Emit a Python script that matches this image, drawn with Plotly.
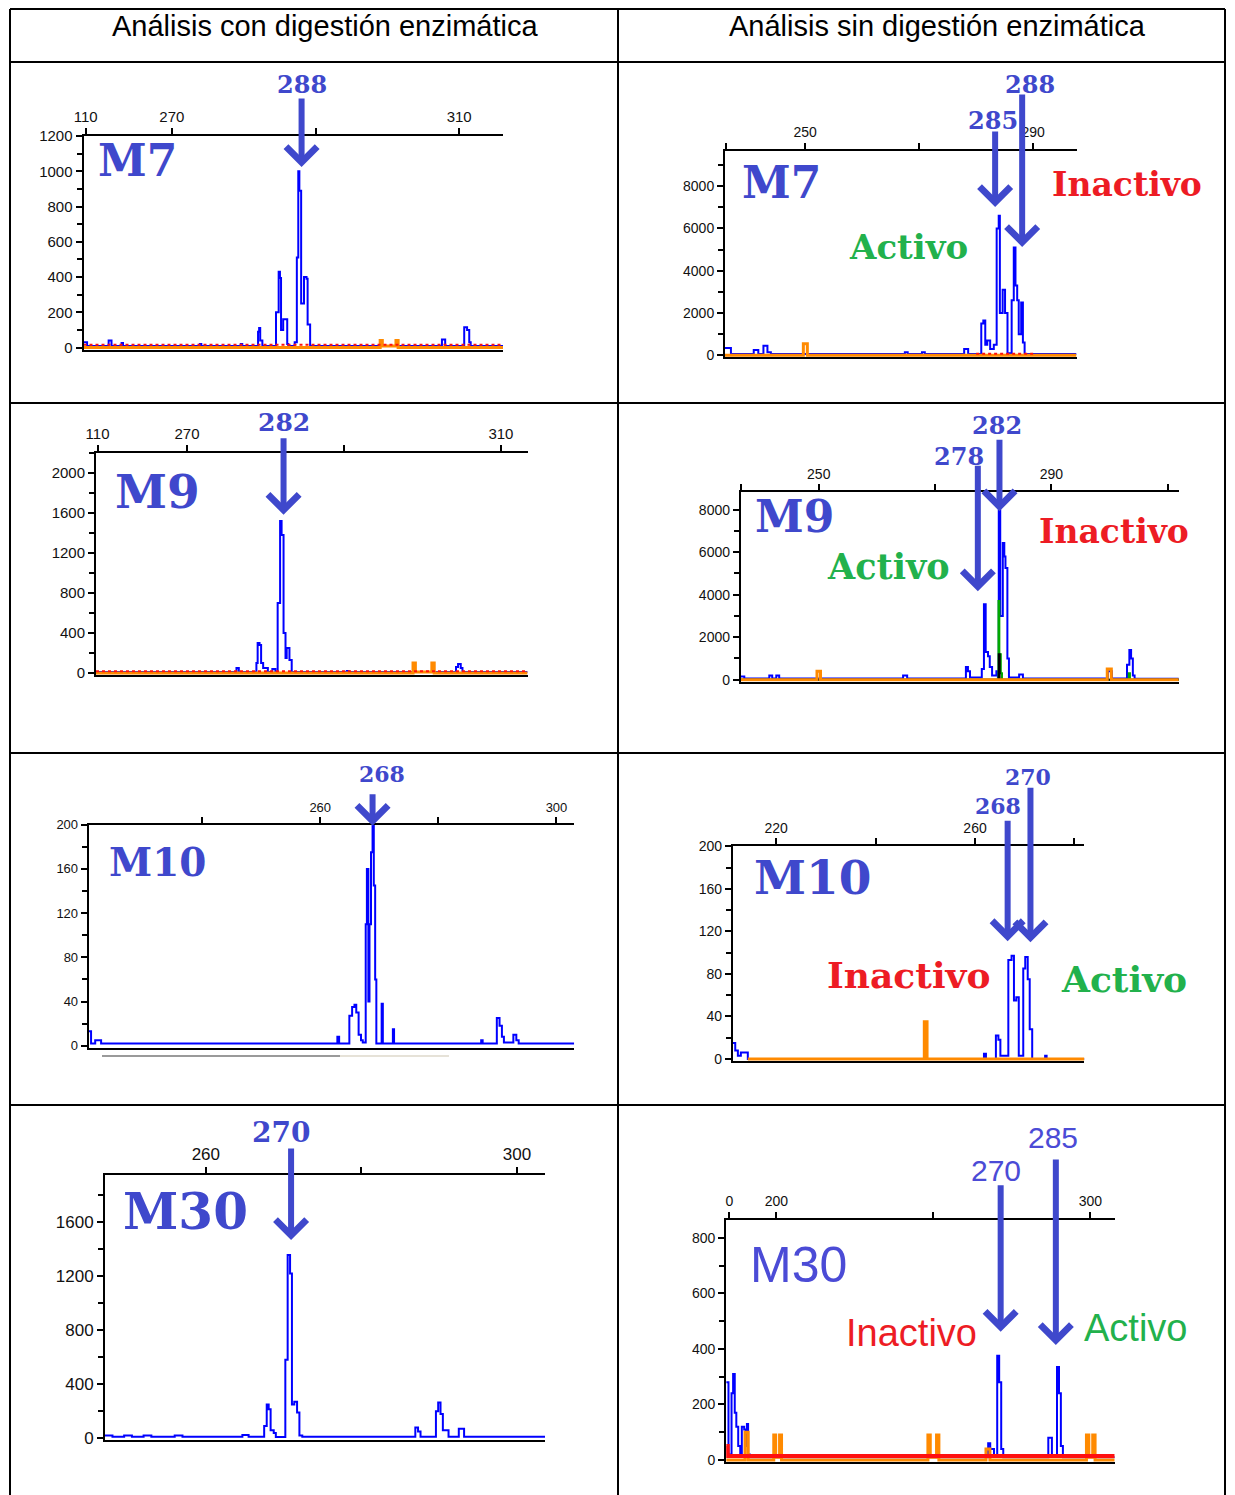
import plotly.graph_objects as go

W, H = 1227, 1487

# ---------------- DATA (size in bp, signal in RFU) ----------------
# Panel 1: M7, con digestión
m7c_x = [257.7, 258.2, 261.2, 261.6, 263.0, 263.2, 273.9, 274.1, 279.6, 279.8, 282.0, 282.15, 282.3, 282.6,
         284.5, 284.87, 285.05, 285.2, 285.5, 286.06, 286.2, 287.1, 287.4, 287.6, 287.75, 288.0, 288.4, 288.75,
         288.9, 289.25, 307.6, 308.05, 310.7, 311.1, 311.4, 311.6, 316.1]
m7c_y = [30, 8, 40, 8, 25, 8, 20, 8, 20, 8, 90, 110, 40, 8,
         200, 430, 395, 100, 160, 20, 8, 30, 510, 1000, 890, 250, 400, 390,
         130, 8, 45, 8, 115, 100, 30, 8, 8]
m7c_orange_x = [257.7, 299.0, 299.3, 301.2, 301.5, 316.1]
m7c_orange_y = [0, 40, 8, 40, 0, 0]
m7c_red_x = [257.7, 316.1]
m7c_red_y = [15, 15]
m7c_xticks = [258.0, 270, 290, 310]
m7c_xtext = ["110", "270", "", "310"]
m7c_yticks = [0, 200, 400, 600, 800, 1000, 1200]

# Panel 2: M7, sin digestión
m7s_x = [235.96, 237.0, 241.0, 241.8, 242.7, 243.4, 244.0, 267.5, 268.0, 270.5, 271.0, 277.9, 278.6,
         280.9, 281.26, 281.6, 281.95, 282.46, 283.1, 283.6, 283.96, 284.16, 284.65, 285.07, 285.5,
         286.23, 286.6, 286.9, 287.2, 287.47, 287.9, 288.2, 288.5, 297.6]
m7s_y = [350, 60, 250, 60, 450, 150, 60, 150, 60, 150, 60, 300, 60,
         1500, 1650, 500, 700, 300, 500, 6000, 6600, 2000, 3100, 2000, 100,
         2600, 5100, 3300, 2600, 1000, 2500, 600, 60, 60]
m7s_orange_x = [235.96, 249.7, 250.4, 297.6]
m7s_orange_y = [0, 550, 0, 0]
m7s_red_x = [280.0, 290.0]
m7s_red_y = [70, 70]
m7s_xticks = [236.1, 250, 270, 290]
m7s_xtext = ["", "250", "", "290"]
m7s_yticks = [0, 2000, 4000, 6000, 8000]

# Panel 3: M9, con digestión
m9c_x = [258.4, 276.3, 276.6, 278.84, 279.0, 279.24, 279.44, 279.7, 280.3, 280.87, 281.26,
         281.55, 281.86, 282.05, 282.3, 282.55, 282.7, 283.05, 283.34, 290.36, 290.6,
         304.28, 304.54, 304.88, 305.1, 313.4]
m9c_y = [10, 50, 10, 100, 300, 280, 100, 50, 10, 40, 10,
         700, 1520, 1380, 400, 150, 250, 130, 10, 20, 10,
         60, 90, 50, 10, 10]
m9c_orange_x = [258.4, 298.8, 299.1, 301.2, 301.5, 313.4]
m9c_orange_y = [0, 100, 10, 100, 0, 0]
m9c_red_x = [258.4, 313.4]
m9c_red_y = [18, 18]
m9c_xticks = [258.6, 270, 290, 310]
m9c_xtext = ["110", "270", "", "310"]
m9c_yticks = [0, 400, 800, 1200, 1600, 2000]

# Panel 4: M9, sin digestión
m9s_x = [236.6, 237.2, 241.5, 242.0, 242.7, 243.2, 264.5, 265.2, 275.3, 275.65, 276.0,
         278.03, 278.4, 278.7, 279.1, 279.4, 279.8, 280.54, 280.8,
         280.95, 281.2, 281.64, 281.9, 282.1, 282.43, 282.7, 284.45, 285.1, 299.7, 300.4,
         303.0, 303.4, 303.7, 304.0, 304.3, 311.9]
m9s_y = [150, 60, 200, 60, 200, 60, 200, 60, 600, 400, 100,
         500, 3550, 1300, 1100, 600, 200, 400, 100,
         7970, 3000, 6430, 5800, 5260, 1000, 100, 250, 60, 400, 60,
         700, 1400, 1000, 200, 50, 50]
m9s_green_x = [236.6, 280.9, 281.05, 281.3, 281.5, 303.3, 303.5, 311.9]
m9s_green_y = [0, 3700, 1200, 300, 0, 300, 0, 0]
m9s_black_x = [236.6, 280.95, 281.1, 311.9]
m9s_black_y = [0, 1200, 0, 0]
m9s_orange_x = [236.6, 249.7, 250.3, 299.6, 300.3, 311.9]
m9s_orange_y = [0, 400, 0, 500, 0, 0]
m9s_xticks = [236.7, 250, 270, 290, 310]
m9s_xtext = ["", "250", "", "290", ""]
m9s_yticks = [0, 2000, 4000, 6000, 8000]

# Panel 5: M10, con digestión
m10c_x = [220.8, 221.2, 221.9, 222.9, 262.9, 263.2, 264.93, 265.4, 265.8, 266.1, 266.5, 266.9, 267.2,
          267.7, 267.9, 268.15, 268.34, 268.6, 268.86, 269.07, 269.3, 269.5, 270.4, 270.6, 272.3, 272.5,
          287.25, 287.5, 289.9, 290.36, 290.76, 291.1, 292.7, 293.2, 293.6, 303.0]
m10c_y = [13, 2, 5, 2, 8, 2, 27, 35, 37, 30, 10, 5, 3,
          110, 160, 40, 110, 175, 199, 145, 60, 2, 38, 2, 15, 2,
          5, 2, 25, 18, 8, 3, 10, 5, 2, 2]
m10c_xticks = [240, 260, 280, 300]
m10c_xtext = ["", "260", "", "300"]
m10c_yticks = [0, 40, 80, 120, 160, 200]

# Panel 6: M10, sin digestión
m10s_x = [211.3, 211.77, 212.3, 212.9, 214.3, 261.8, 262.2, 264.2, 264.7, 265.1,
          266.7, 267.35, 267.83, 268.3, 268.8, 269.7, 270.1, 270.6, 271.0, 271.5, 274.1, 274.4, 282.0]
m10s_y = [15, 8, 3, 6, 0, 5, 0, 22, 18, 3,
          93, 97, 55, 58, 3, 85, 96, 75, 28, 0, 3, 0, 0]
m10s_orange_x = [214.3, 249.8, 250.35, 282.0]
m10s_orange_y = [0, 35, 0, 0]
m10s_xticks = [220, 240, 260, 280]
m10s_xtext = ["220", "", "260", ""]
m10s_yticks = [0, 40, 80, 120, 160, 200]

# Panel 7: M30, con digestión
m30c_x = [247.04, 248.0, 249.5, 250.5, 252.0, 253.0, 256.0, 257.0, 264.7, 265.5,
          267.5, 267.83, 268.08, 268.33, 268.73, 269.0,
          270.22, 270.52, 270.83, 271.07, 271.37, 271.73, 272.03, 272.4,
          286.93, 287.28, 287.6, 289.58, 289.87, 290.17, 290.47, 290.92, 291.2,
          292.52, 292.91, 293.2, 303.6]
m30c_y = [20, 12, 20, 12, 20, 12, 20, 12, 25, 12,
          90, 250, 215, 60, 40, 10,
          580, 1354, 1217, 250, 270, 190, 20, 12,
          80, 50, 12, 200, 265, 180, 60, 60, 12,
          70, 70, 12, 12]
m30c_xticks = [260, 280, 300]
m30c_xtext = ["260", "", "300"]
m30c_yticks = [0, 400, 800, 1200, 1600]

# Panel 8: M30, sin digestión
m30s_x = [253.6, 253.89, 254.28, 254.48, 254.69, 254.89, 255.13, 255.39, 255.59, 255.89, 256.09, 256.24,
          256.39, 256.6, 286.98, 287.24, 287.72, 288.13, 288.38, 288.64, 288.9,
          294.64, 295.1, 295.75, 296.0, 296.24, 296.5, 303.1]
m30s_y = [280, 20, 240, 310, 170, 120, 50, 20, 120, 110, 50, 130,
          20, 10, 60, 40, 15, 375, 280, 40, 10,
          80, 15, 335, 240, 50, 10, 10]
m30s_orange_x = [253.6, 256.0, 256.4, 259.66, 259.9, 260.4, 260.65, 279.3, 279.6, 280.4, 280.7,
                 286.7, 287.2, 299.5, 299.8, 300.3, 300.6, 303.1]
m30s_orange_y = [0, 100, 0, 90, 10, 90, 0, 90, 10, 90, 0,
                 40, 0, 90, 10, 90, 0, 0]
m30s_red_x = [253.6, 253.8, 303.1]
m30s_red_y = [50, 14, 14]
m30s_xticks = [254.0, 260, 280, 300]
m30s_xtext = ["0", "200", "", "300"]
m30s_yticks = [0, 200, 400, 600, 800]

# ---------------- STYLE ----------------
BLUE_TXT = '#3F48CC'
RED_TXT = '#ED1C24'
GREEN_TXT = '#22B14C'
TRACE_BLUE = '#0000FF'
ORANGE = '#FF8A00'
RED = '#FF1010'
GREEN = '#00A800'
SERIF = 'DejaVu Serif'
SANS = 'Liberation Sans, Arial'
OFF = 8  # page body margin


def px(x):
    return (x - OFF) / W


def py(y):
    return 1 - (y - OFF) / H


# geometry per panel: left, right, top, zero (pixels); x range; y max; tick font; minor dtick
panels = [
    dict(l=83.5, r=503, t=136, z=347.5, xr=(257.7, 316.1), ymax=1200, fs=15, minor=100,
         xt=m7c_xticks, xtt=m7c_xtext, yt=m7c_yticks,
         traces=[(m7c_x, m7c_y, TRACE_BLUE, 2, 'solid'), (m7c_orange_x, m7c_orange_y, ORANGE, 3, 'solid'),
                 (m7c_red_x, m7c_red_y, RED, 2, 'dot')]),
    dict(l=725, r=1076.5, t=151, z=355.3, xr=(235.96, 297.6), ymax=9660, fs=14, minor=1000,
         xt=m7s_xticks, xtt=m7s_xtext, yt=m7s_yticks,
         traces=[(m7s_x, m7s_y, TRACE_BLUE, 2, 'solid'), (m7s_orange_x, m7s_orange_y, ORANGE, 3, 'solid'),
                 (m7s_red_x, m7s_red_y, RED, 2, 'dot')]),
    dict(l=96, r=527.6, t=453, z=673, xr=(258.4, 313.4), ymax=2200, fs=15, minor=200,
         xt=m9c_xticks, xtt=m9c_xtext, yt=m9c_yticks,
         traces=[(m9c_x, m9c_y, TRACE_BLUE, 2, 'solid'), (m9c_orange_x, m9c_orange_y, ORANGE, 3, 'solid'),
                 (m9c_red_x, m9c_red_y, RED, 2, 'dot')]),
    dict(l=740.8, r=1178.8, t=492.3, z=679.7, xr=(236.6, 311.9), ymax=8820, fs=14, minor=1000,
         xt=m9s_xticks, xtt=m9s_xtext, yt=m9s_yticks,
         traces=[(m9s_x, m9s_y, TRACE_BLUE, 2, 'solid'), (m9s_green_x, m9s_green_y, GREEN, 2, 'solid'),
                 (m9s_black_x, m9s_black_y, '#000000', 2, 'solid'),
                 (m9s_orange_x, m9s_orange_y, ORANGE, 3, 'solid')]),
    dict(l=88.7, r=574.2, t=824.7, z=1045.7, xr=(220.8, 303.0), ymax=200, fs=13, minor=20,
         xt=m10c_xticks, xtt=m10c_xtext, yt=m10c_yticks,
         traces=[(m10c_x, m10c_y, TRACE_BLUE, 2, 'solid')]),
    dict(l=732.9, r=1084.4, t=846.3, z=1059, xr=(211.3, 282.0), ymax=200, fs=14, minor=20,
         xt=m10s_xticks, xtt=m10s_xtext, yt=m10s_yticks,
         traces=[(m10s_x, m10s_y, TRACE_BLUE, 2, 'solid'), (m10s_orange_x, m10s_orange_y, ORANGE, 3, 'solid')]),
    dict(l=105, r=545, t=1175, z=1438.3, xr=(247.04, 303.6), ymax=1945, fs=17, minor=200,
         xt=m30c_xticks, xtt=m30c_xtext, yt=m30c_yticks,
         traces=[(m30c_x, m30c_y, TRACE_BLUE, 2, 'solid')]),
    dict(l=726.2, r=1114.7, t=1220, z=1460, xr=(253.6, 303.1), ymax=864, fs=14, minor=100,
         xt=m30s_xticks, xtt=m30s_xtext, yt=m30s_yticks,
         traces=[(m30s_x, m30s_y, TRACE_BLUE, 2, 'solid'), (m30s_orange_x, m30s_orange_y, ORANGE, 3, 'solid'),
                 (m30s_red_x, m30s_red_y, RED, 4, 'solid')]),
]

fig = go.Figure()
layout_axes = {}
for i, p in enumerate(panels, start=1):
    upp = p['ymax'] / (p['z'] - p['t'])
    ymin = -2 * upp
    xa = 'xaxis' if i == 1 else f'xaxis{i}'
    ya = 'yaxis' if i == 1 else f'yaxis{i}'
    xid = 'x' if i == 1 else f'x{i}'
    yid = 'y' if i == 1 else f'y{i}'
    p['xid'], p['yid'] = xid, yid
    for (tx, ty, col, w, dash) in p['traces']:
        fig.add_trace(go.Scatter(x=tx, y=ty, mode='lines', line=dict(color=col, width=w, shape='hv', dash=dash),
                                 xaxis=xid, yaxis=yid, hoverinfo='skip', showlegend=False))
    layout_axes[xa] = dict(domain=[px(p['l']), px(p['r'])], range=list(p['xr']), side='top', anchor=yid,
                           showline=True, linecolor='black', linewidth=2, mirror=True,
                           ticks='outside', ticklen=6, tickwidth=1.5, tickcolor='black',
                           tickmode='array', tickvals=p['xt'], ticktext=p['xtt'],
                           tickfont=dict(family=SANS, size=p['fs'], color='#111'),
                           showgrid=False, zeroline=False, fixedrange=True, automargin=False)
    layout_axes[ya] = dict(domain=[py(p['z'] + 2), py(p['t'])], range=[ymin, p['ymax']], anchor=xid,
                           showline=True, linecolor='black', linewidth=2,
                           ticks='outside', ticklen=6, tickwidth=1.5, tickcolor='black',
                           tickmode='array', tickvals=p['yt'],
                           tickfont=dict(family=SANS, size=p['fs'], color='#111'),
                           minor=dict(dtick=p['minor'], tick0=0, ticks='outside', ticklen=5,
                                      tickwidth=1.5, tickcolor='black', showgrid=False),
                           showgrid=False, zeroline=False, fixedrange=True, automargin=False)

# ---------------- TABLE GRID ----------------
shapes = []
LW = 2
RIGHT = 1225
for yline in [9, 62, 403, 753, 1105]:
    shapes.append(dict(type='line', xref='paper', yref='paper', x0=px(10), x1=px(RIGHT), y0=py(yline), y1=py(yline),
                       line=dict(color='black', width=LW)))
for xline in [10, 618, RIGHT]:
    shapes.append(dict(type='line', xref='paper', yref='paper', x0=px(xline), x1=px(xline), y0=py(9), y1=py(1495),
                       line=dict(color='black', width=LW)))
# scanner grey marks below panel 5
shapes.append(dict(type='line', xref='paper', yref='paper', x0=px(102), x1=px(340), y0=py(1056), y1=py(1056),
                   line=dict(color='#9a9a9a', width=2)))
shapes.append(dict(type='line', xref='paper', yref='paper', x0=px(340), x1=px(449), y0=py(1056), y1=py(1056),
                   line=dict(color='#e6e2d8', width=2)))

annotations = []
annotations.append(dict(text='Análisis con digestión enzimática', x=px(325), y=py(26), xref='paper', yref='paper',
                        showarrow=False, xanchor='center', yanchor='middle',
                        font=dict(family=SANS, size=29, color='black')))
annotations.append(dict(text='Análisis sin digestión enzimática', x=px(937), y=py(26), xref='paper', yref='paper',
                        showarrow=False, xanchor='center', yanchor='middle',
                        font=dict(family=SANS, size=29, color='black')))

# arrows: panel, x (bp), signal at arrow tip, visual length in px
arrows = [
    (1, 288.06, 1024, 70),
    (2, 283.33, 7011, 77), (2, 288.07, 5120, 154),
    (3, 282.3, 1583, 78),
    (4, 277.35, 4160, 127), (4, 281.07, 7925, 73),
    (5, 268.86, 199, 33),
    (6, 266.56, 110.8, 122), (6, 271.15, 109.8, 156),
    (7, 270.96, 1465, 93),
    (8, 288.57, 461.5, 148), (8, 295.6, 413.7, 187),
]
for (pi, xb, tip, length) in arrows:
    p = panels[pi - 1]
    annotations.append(dict(x=xb, y=tip, xref=p['xid'], yref=p['yid'], ax=0, ay=-length,
                            text='', showarrow=True, arrowhead=4, arrowsize=1.0, arrowwidth=6,
                            arrowcolor=BLUE_TXT, standoff=0))

# text labels: text, x px, y px, color, family, size, bold
labels = [
    ('288', 301.8, 84.5, BLUE_TXT, SERIF, 24, True),
    ('M7', 137, 160.7, BLUE_TXT, SERIF, 44, True),
    ('285', 992.7, 121, BLUE_TXT, SERIF, 24, True),
    ('288', 1030.2, 84, BLUE_TXT, SERIF, 24, True),
    ('M7', 781.3, 182.5, BLUE_TXT, SERIF, 44, True),
    ('Inactivo', 1126.5, 184.2, RED_TXT, SERIF, 33, True),
    ('Activo', 908, 247, GREEN_TXT, SERIF, 34, True),
    ('282', 283.6, 422, BLUE_TXT, SERIF, 25, True),
    ('M9', 157.4, 491.3, BLUE_TXT, SERIF, 47, True),
    ('278', 958.5, 456, BLUE_TXT, SERIF, 24, True),
    ('282', 997.4, 425, BLUE_TXT, SERIF, 24, True),
    ('M9', 794, 516.5, BLUE_TXT, SERIF, 44, True),
    ('Inactivo', 1113.8, 531.3, RED_TXT, SERIF, 33, True),
    ('Activo', 888.6, 566, GREEN_TXT, SERIF, 35, True),
    ('268', 381.7, 774, BLUE_TXT, SERIF, 22, True),
    ('M10', 157, 862, BLUE_TXT, SERIF, 39, True),
    ('268', 998, 806, BLUE_TXT, SERIF, 22, True),
    ('270', 1027.8, 776.5, BLUE_TXT, SERIF, 22, True),
    ('M10', 812.8, 877.7, BLUE_TXT, SERIF, 47, True),
    ('Inactivo', 909, 975, RED_TXT, SERIF, 36, True),
    ('Activo', 1123.7, 979.2, GREEN_TXT, SERIF, 36, True),
    ('270', 280.8, 1132.5, BLUE_TXT, SERIF, 28, True),
    ('M30', 185.5, 1211.5, BLUE_TXT, SERIF, 50, True),
    ('270', 995.5, 1170, '#4B4BD6', SANS, 30, False),
    ('285', 1052.8, 1137.5, '#4B4BD6', SANS, 30, False),
    ('M30', 798.7, 1265, '#4B4BD6', SANS, 50, False),
    ('Inactivo', 912, 1332.5, RED_TXT, SANS, 38, False),
    ('Activo', 1135.5, 1328, GREEN_TXT, SANS, 38, False),
]
for (t, x, y, col, fam, size, bold) in labels:
    annotations.append(dict(text=f'<b>{t}</b>' if bold else t, x=px(x), y=py(y), xref='paper', yref='paper',
                            showarrow=False, xanchor='center', yanchor='middle',
                            font=dict(family=fam, size=size, color=col)))

fig.update_layout(width=W, height=H, margin=dict(l=0, r=0, t=0, b=0, autoexpand=False), paper_bgcolor='white',
                  plot_bgcolor='white', showlegend=False, shapes=shapes, annotations=annotations,
                  **layout_axes)

fig.write_html('out.html')
